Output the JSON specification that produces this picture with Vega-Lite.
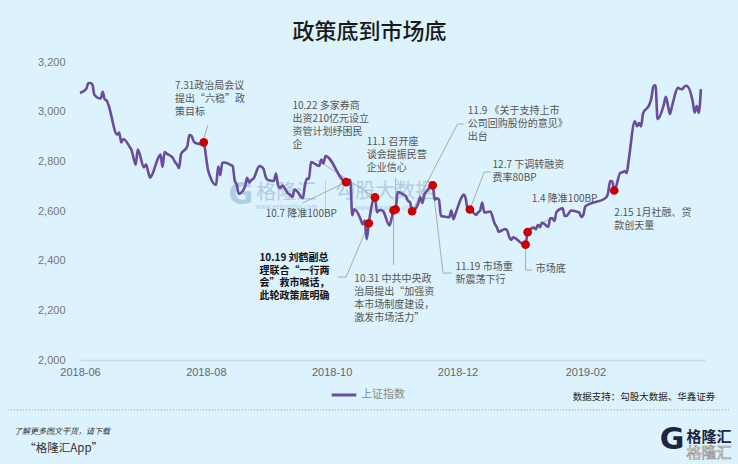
{
  "$schema": "https://vega.github.io/schema/vega-lite/v6.json",
  "width": 625,
  "height": 298,
  "autosize": {"type": "none"},
  "padding": {"left": 80, "top": 62, "right": 33, "bottom": 104},
  "background": "#dcf2fc",
  "config": {"view": {"stroke": null}, "font": "Noto Sans CJK SC"},
  "title": {"text": "政策底到市场底", "anchor": "middle", "frame": "group", "dx": -23, "offset": 12, "fontSize": 22, "fontWeight": 500, "color": "#1a1a1a", "font": "Noto Sans CJK SC"},
  "datasets": {
    "idx": [
      {"date":"2018-06-01","value":3075.14},{"date":"2018-06-04","value":3091.19},{"date":"2018-06-05","value":3114.21},{"date":"2018-06-06","value":3115.18},{"date":"2018-06-07","value":3109.50},{"date":"2018-06-08","value":3067.15},{"date":"2018-06-11","value":3052.78},{"date":"2018-06-12","value":3079.80},{"date":"2018-06-13","value":3049.80},{"date":"2018-06-14","value":3044.16},{"date":"2018-06-15","value":3021.90},{"date":"2018-06-19","value":2907.82},{"date":"2018-06-20","value":2915.73},{"date":"2018-06-21","value":2875.81},{"date":"2018-06-22","value":2889.76},{"date":"2018-06-25","value":2859.34},{"date":"2018-06-26","value":2844.51},{"date":"2018-06-27","value":2813.18},{"date":"2018-06-28","value":2786.90},{"date":"2018-06-29","value":2847.42},
      {"date":"2018-07-02","value":2775.56},{"date":"2018-07-03","value":2786.89},{"date":"2018-07-04","value":2759.13},{"date":"2018-07-05","value":2733.88},{"date":"2018-07-06","value":2747.23},{"date":"2018-07-09","value":2815.11},{"date":"2018-07-10","value":2827.63},{"date":"2018-07-11","value":2777.77},{"date":"2018-07-12","value":2837.66},{"date":"2018-07-13","value":2831.18},{"date":"2018-07-16","value":2814.04},{"date":"2018-07-17","value":2798.13},{"date":"2018-07-18","value":2787.26},{"date":"2018-07-19","value":2772.55},{"date":"2018-07-20","value":2829.27},{"date":"2018-07-23","value":2859.54},{"date":"2018-07-24","value":2905.56},{"date":"2018-07-25","value":2903.65},{"date":"2018-07-26","value":2882.23},{"date":"2018-07-27","value":2873.59},{"date":"2018-07-30","value":2869.05},{"date":"2018-07-31","value":2876.40},
      {"date":"2018-08-01","value":2824.53},{"date":"2018-08-02","value":2768.02},{"date":"2018-08-03","value":2740.44},{"date":"2018-08-06","value":2705.16},{"date":"2018-08-07","value":2779.37},{"date":"2018-08-08","value":2744.07},{"date":"2018-08-09","value":2794.38},{"date":"2018-08-10","value":2795.31},{"date":"2018-08-13","value":2785.87},{"date":"2018-08-14","value":2780.96},{"date":"2018-08-15","value":2723.26},{"date":"2018-08-16","value":2705.19},{"date":"2018-08-17","value":2668.97},{"date":"2018-08-20","value":2698.47},{"date":"2018-08-21","value":2733.44},{"date":"2018-08-22","value":2714.61},{"date":"2018-08-23","value":2724.62},{"date":"2018-08-24","value":2729.43},{"date":"2018-08-27","value":2780.90},{"date":"2018-08-28","value":2777.98},{"date":"2018-08-29","value":2769.30},{"date":"2018-08-30","value":2737.74},{"date":"2018-08-31","value":2725.25},
      {"date":"2018-09-03","value":2720.73},{"date":"2018-09-04","value":2750.58},{"date":"2018-09-05","value":2704.34},{"date":"2018-09-06","value":2691.59},{"date":"2018-09-07","value":2702.30},{"date":"2018-09-10","value":2669.48},{"date":"2018-09-11","value":2664.80},{"date":"2018-09-12","value":2656.11},{"date":"2018-09-13","value":2686.58},{"date":"2018-09-14","value":2681.64},{"date":"2018-09-17","value":2651.79},{"date":"2018-09-18","value":2699.95},{"date":"2018-09-19","value":2730.85},{"date":"2018-09-20","value":2729.24},{"date":"2018-09-21","value":2797.49},{"date":"2018-09-25","value":2781.14},{"date":"2018-09-26","value":2806.81},{"date":"2018-09-27","value":2791.77},{"date":"2018-09-28","value":2821.35},
      {"date":"2018-10-08","value":2716.51},{"date":"2018-10-09","value":2721.01},{"date":"2018-10-10","value":2725.84},{"date":"2018-10-11","value":2583.46},{"date":"2018-10-12","value":2606.91},{"date":"2018-10-15","value":2568.10},{"date":"2018-10-16","value":2546.33},{"date":"2018-10-17","value":2561.61},{"date":"2018-10-18","value":2486.42},{"date":"2018-10-19","value":2550.47},{"date":"2018-10-22","value":2654.88},{"date":"2018-10-23","value":2594.83},{"date":"2018-10-24","value":2603.30},{"date":"2018-10-25","value":2603.80},{"date":"2018-10-26","value":2598.85},{"date":"2018-10-29","value":2542.10},{"date":"2018-10-30","value":2568.05},{"date":"2018-10-31","value":2602.78},
      {"date":"2018-11-01","value":2606.24},{"date":"2018-11-02","value":2676.48},{"date":"2018-11-05","value":2665.43},{"date":"2018-11-06","value":2659.36},{"date":"2018-11-07","value":2641.34},{"date":"2018-11-08","value":2635.63},{"date":"2018-11-09","value":2598.87},{"date":"2018-11-12","value":2630.52},{"date":"2018-11-13","value":2654.88},{"date":"2018-11-14","value":2632.24},{"date":"2018-11-15","value":2668.17},{"date":"2018-11-16","value":2679.11},{"date":"2018-11-19","value":2703.51},{"date":"2018-11-20","value":2645.43},{"date":"2018-11-21","value":2651.51},{"date":"2018-11-22","value":2645.85},{"date":"2018-11-23","value":2579.48},{"date":"2018-11-26","value":2575.81},{"date":"2018-11-27","value":2574.68},{"date":"2018-11-28","value":2601.74},{"date":"2018-11-29","value":2567.44},{"date":"2018-11-30","value":2588.19},
      {"date":"2018-12-03","value":2654.80},{"date":"2018-12-04","value":2665.96},{"date":"2018-12-05","value":2649.81},{"date":"2018-12-06","value":2605.18},{"date":"2018-12-07","value":2605.89},{"date":"2018-12-10","value":2584.58},{"date":"2018-12-11","value":2594.09},{"date":"2018-12-12","value":2602.15},{"date":"2018-12-13","value":2634.05},{"date":"2018-12-14","value":2593.74},{"date":"2018-12-17","value":2597.97},{"date":"2018-12-18","value":2576.65},{"date":"2018-12-19","value":2549.56},{"date":"2018-12-20","value":2536.27},{"date":"2018-12-21","value":2516.25},{"date":"2018-12-24","value":2527.01},{"date":"2018-12-25","value":2522.77},{"date":"2018-12-26","value":2498.29},{"date":"2018-12-27","value":2483.09},{"date":"2018-12-28","value":2493.90},
      {"date":"2019-01-02","value":2465.29},{"date":"2019-01-03","value":2464.36},{"date":"2019-01-04","value":2514.87},{"date":"2019-01-07","value":2533.09},{"date":"2019-01-08","value":2526.46},{"date":"2019-01-09","value":2544.34},{"date":"2019-01-10","value":2535.10},{"date":"2019-01-11","value":2553.83},{"date":"2019-01-14","value":2535.77},{"date":"2019-01-15","value":2570.42},{"date":"2019-01-16","value":2570.34},{"date":"2019-01-17","value":2559.64},{"date":"2019-01-18","value":2596.01},{"date":"2019-01-21","value":2610.51},{"date":"2019-01-22","value":2579.70},{"date":"2019-01-23","value":2581.00},{"date":"2019-01-24","value":2591.69},{"date":"2019-01-25","value":2601.72},{"date":"2019-01-28","value":2596.98},{"date":"2019-01-29","value":2594.25},{"date":"2019-01-30","value":2575.58},{"date":"2019-01-31","value":2584.57},
      {"date":"2019-02-01","value":2618.23},{"date":"2019-02-11","value":2653.90},{"date":"2019-02-12","value":2671.89},{"date":"2019-02-13","value":2721.07},{"date":"2019-02-14","value":2719.70},{"date":"2019-02-15","value":2682.39},{"date":"2019-02-18","value":2754.36},{"date":"2019-02-19","value":2755.65},{"date":"2019-02-20","value":2761.22},{"date":"2019-02-21","value":2751.80},{"date":"2019-02-22","value":2804.23},{"date":"2019-02-25","value":2961.28},{"date":"2019-02-26","value":2941.52},{"date":"2019-02-27","value":2953.82},{"date":"2019-02-28","value":2940.95},
      {"date":"2019-03-01","value":2994.01},{"date":"2019-03-04","value":3027.58},{"date":"2019-03-05","value":3054.25},{"date":"2019-03-06","value":3102.10},{"date":"2019-03-07","value":3106.42},{"date":"2019-03-08","value":2969.86},{"date":"2019-03-11","value":3026.99},{"date":"2019-03-12","value":3060.31},{"date":"2019-03-13","value":3026.95},{"date":"2019-03-14","value":2990.69},{"date":"2019-03-15","value":3021.75},{"date":"2019-03-18","value":3096.42},{"date":"2019-03-19","value":3090.98},{"date":"2019-03-20","value":3090.64},{"date":"2019-03-21","value":3101.46},{"date":"2019-03-22","value":3104.15},{"date":"2019-03-25","value":3043.03},{"date":"2019-03-26","value":2997.10},{"date":"2019-03-27","value":3022.72},{"date":"2019-03-28","value":2994.94},{"date":"2019-03-29","value":3090.76}
    ],
    "dots": [
      {"date":"2018-07-31","value":2876.40},{"date":"2018-10-08","value":2716.51},{"date":"2018-10-19","value":2550.47},{"date":"2018-10-22","value":2654.88},{"date":"2018-10-31","value":2602.78},{"date":"2018-11-01","value":2606.24},{"date":"2018-11-09","value":2598.87},{"date":"2018-11-19","value":2703.51},{"date":"2018-12-07","value":2605.89},{"date":"2019-01-03","value":2464.36},{"date":"2019-01-04","value":2514.87},{"date":"2019-02-15","value":2682.39}
    ],
    "segs": [
      {"date":"2018-07-31","value":2890,"date2":"2018-08-02","value2":2946},
      {"date":"2018-09-24","value":2805,"date2":"2018-10-22","value2":2654.88},
      {"date":"2018-09-17","value":2632,"date2":"2018-10-08","value2":2716.51},
      {"date":"2018-10-19","value":2550.47,"date2":"2018-10-08","value2":2334},
      {"date":"2018-10-08","value":2334,"date2":"2018-10-04","value2":2334},
      {"date":"2018-10-31","value":2602.78,"date2":"2018-10-31","value2":2382},
      {"date":"2018-11-01","value":2733,"date2":"2018-11-01","value2":2606.24},
      {"date":"2018-12-04","value":2950,"date2":"2018-12-01","value2":2950},
      {"date":"2018-12-01","value":2950,"date2":"2018-11-09","value2":2598.87},
      {"date":"2018-11-19","value":2703.51,"date2":"2018-11-24","value2":2350},
      {"date":"2018-11-24","value":2350,"date2":"2018-11-28","value2":2350},
      {"date":"2018-12-17","value":2757,"date2":"2018-12-14","value2":2757},
      {"date":"2018-12-14","value":2757,"date2":"2018-12-07","value2":2605.89},
      {"date":"2019-01-04","value":2514.87,"date2":"2019-01-16","value2":2576},
      {"date":"2019-01-03","value":2464.36,"date2":"2019-01-03","value2":2362},
      {"date":"2019-01-03","value":2362,"date2":"2019-01-06","value2":2362}
    ],
    "notes": [
      {"date":"2018-07-17","value":3123,"label":"7.31政治局会议\n提出“六稳”政\n策目标"},
      {"date":"2018-09-12","value":3043,"label":"10.22 多家券商\n出资210亿元设立\n资管计划纾困民\n企"},
      {"date":"2018-08-30","value":2608,"label":"10.7 降准100BP"},
      {"date":"2018-10-12","value":2346,"label":"10.31 中共中央政\n治局提出“加强资\n本市场制度建设，\n激发市场活力”"},
      {"date":"2018-10-18","value":2898,"label":"11.1 召开座\n谈会提振民营\n企业信心"},
      {"date":"2018-12-06","value":3023,"label":"11.9 《关于支持上市\n公司回购股份的意见》\n出台"},
      {"date":"2018-11-30","value":2395,"label":"11.19 市场重\n新震荡下行"},
      {"date":"2018-12-18","value":2805,"label":"12.7 下调转融资\n费率80BP"},
      {"date":"2019-01-06","value":2668,"label":"1.4 降准100BP"},
      {"date":"2019-01-08","value":2387,"label":"市场底"},
      {"date":"2019-02-15","value":2612,"label":"2.15 1月社融、贷\n款创天量"}
    ],
    "boldnote": [
      {"date":"2018-08-27","value":2431,"label":"10.19 刘鹤副总\n理联合“一行两\n会”救市喊话，\n此轮政策底明确"}
    ]
  },
  "layer": [
    {
      "data": {"values": [{"date":"2018-09-09","value":2672,"label":"格隆汇"},{"date":"2018-10-27","value":2676,"label":"勾股大数据"}]},
      "mark": {"type": "text", "align": "center", "baseline": "middle", "fontSize": 20, "color": "#a9c8df", "opacity": 0.85},
      "encoding": {
        "x": {"field": "date", "type": "temporal", "scale": {"type": "utc", "domain": [{"year":2018,"month":"jun","date":1,"utc":true},{"year":2019,"month":"mar","date":31,"utc":true}]},
          "axis": {"values": [{"year":2018,"month":"jun","date":1,"utc":true},{"year":2018,"month":"aug","date":1,"utc":true},{"year":2018,"month":"oct","date":1,"utc":true},{"year":2018,"month":"dec","date":1,"utc":true},{"year":2019,"month":"feb","date":1,"utc":true}],
            "format": "%Y-%m", "title": null, "ticks": false, "grid": false, "labelFlush": false, "domainColor": "#c3d9e5", "domainWidth": 1.5, "labelColor": "#666666", "labelFont": "Liberation Sans", "labelFontSize": 11, "labelPadding": 6}},
        "y": {"field": "value", "type": "quantitative", "scale": {"domain": [2000, 3200], "nice": false, "zero": false},
          "axis": {"values": [2000, 2200, 2400, 2600, 2800, 3000, 3200], "format": ",.0f", "title": null, "ticks": false, "grid": false, "domain": false, "labelColor": "#777777", "labelFont": "Liberation Sans", "labelFontSize": 11, "labelPadding": 15}},
        "text": {"field": "label"}
      }
    },
    {
      "data": {"values": [{"date":"2018-09-09","value":2616,"label":"www.gelonghui.com"},{"date":"2018-10-27","value":2612,"label":"www.gogudata.com"}]},
      "mark": {"type": "text", "align": "center", "baseline": "middle", "fontSize": 6.5, "color": "#a9c8df", "opacity": 0.85},
      "encoding": {
        "x": {"field": "date", "type": "temporal"},
        "y": {"field": "value", "type": "quantitative"},
        "text": {"field": "label"}
      }
    },
    {
      "data": {"values": [{"date":"2018-08-18","value":2664,"label":"G"}]},
      "mark": {"type": "text", "align": "center", "baseline": "middle", "fontSize": 30, "fontWeight": "bold", "font": "DejaVu Sans", "color": "#a9c8df", "opacity": 0.85},
      "encoding": {
        "x": {"field": "date", "type": "temporal"},
        "y": {"field": "value", "type": "quantitative"},
        "text": {"field": "label"}
      }
    },
    {
      "data": {"values": [{"date":"2018-09-28","value":2725,"date2":"2018-09-28","value2":2604}]},
      "mark": {"type": "rule", "color": "#b5d1e6", "strokeWidth": 1},
      "encoding": {
        "x": {"field": "date", "type": "temporal"},
        "y": {"field": "value", "type": "quantitative"},
        "x2": {"field": "date2"},
        "y2": {"field": "value2"}
      }
    },
    {
      "data": {"name": "segs"},
      "mark": {"type": "rule", "color": "#9a9a9a", "strokeWidth": 0.8},
      "encoding": {
        "x": {"field": "date", "type": "temporal"},
        "y": {"field": "value", "type": "quantitative"},
        "x2": {"field": "date2"},
        "y2": {"field": "value2"}
      }
    },
    {
      "data": {"name": "idx"},
      "mark": {"type": "line", "strokeWidth": 2.6, "interpolate": "monotone"},
      "encoding": {
        "x": {"field": "date", "type": "temporal"},
        "y": {"field": "value", "type": "quantitative"},
        "color": {"datum": "上证指数", "type": "nominal", "scale": {"range": ["#6a4c9c"]},
          "legend": {"title": null, "orient": "none", "legendX": 250, "legendY": 319, "symbolType": "stroke", "symbolStrokeWidth": 3, "symbolSize": 600, "labelFont": "Noto Sans CJK SC", "labelFontSize": 11, "labelColor": "#8a8a8a", "labelOffset": 3}}
      }
    },
    {
      "data": {"name": "dots"},
      "mark": {"type": "point", "filled": true, "color": "#cc0000", "opacity": 1, "size": 75},
      "encoding": {
        "x": {"field": "date", "type": "temporal"},
        "y": {"field": "value", "type": "quantitative"}
      }
    },
    {
      "data": {"name": "notes"},
      "mark": {"type": "text", "align": "left", "baseline": "top", "lineBreak": "\n", "lineHeight": 13, "fontSize": 10, "color": "#555555", "font": "Noto Sans CJK SC"},
      "encoding": {
        "x": {"field": "date", "type": "temporal"},
        "y": {"field": "value", "type": "quantitative"},
        "text": {"field": "label"}
      }
    },
    {
      "data": {"name": "boldnote"},
      "mark": {"type": "text", "align": "left", "baseline": "top", "lineBreak": "\n", "lineHeight": 12.7, "fontSize": 10, "fontWeight": "bold", "color": "#111111", "font": "Noto Sans CJK SC"},
      "encoding": {
        "x": {"field": "date", "type": "temporal"},
        "y": {"field": "value", "type": "quantitative"},
        "text": {"field": "label"}
      }
    },
    {
      "data": {"values": [{"date":"2019-04-05","value":1851,"label":"数据支持：勾股大数据、华鑫证券"}]},
      "mark": {"type": "text", "align": "right", "baseline": "middle", "fontSize": 9.5, "color": "#222222", "font": "Noto Sans CJK SC"},
      "encoding": {
        "x": {"field": "date", "type": "temporal"},
        "y": {"field": "value", "type": "quantitative"},
        "text": {"field": "label"}
      }
    },
    {
      "data": {"values": [{"date":"2018-04-27","value":1799,"date2":"2019-04-12","value2":1799}]},
      "mark": {"type": "rule", "color": "#9a9a9a", "strokeWidth": 1, "strokeDash": [1, 2]},
      "encoding": {
        "x": {"field": "date", "type": "temporal"},
        "y": {"field": "value", "type": "quantitative"},
        "x2": {"field": "date2"},
        "y2": {"field": "value2"}
      }
    },
    {
      "data": {"values": [{"date":"2018-04-30","value":1710,"label":"了解更多图文干货，请下载"}]},
      "mark": {"type": "text", "align": "left", "baseline": "middle", "fontSize": 8, "fontStyle": "italic", "color": "#333333", "font": "Noto Sans CJK SC"},
      "encoding": {
        "x": {"field": "date", "type": "temporal"},
        "y": {"field": "value", "type": "quantitative"},
        "text": {"field": "label"}
      }
    },
    {
      "data": {"values": [{"date":"2018-05-05","value":1642,"label":"“格隆汇App”"}]},
      "mark": {"type": "text", "align": "left", "baseline": "middle", "fontSize": 11.5, "color": "#333333", "font": "Noto Sans CJK SC"},
      "encoding": {
        "x": {"field": "date", "type": "temporal"},
        "y": {"field": "value", "type": "quantitative"},
        "text": {"field": "label"}
      }
    },
    {
      "data": {"values": [{"date":"2019-03-22","value":1690,"label":"格隆汇"}]},
      "mark": {"type": "text", "align": "left", "baseline": "middle", "fontSize": 15, "fontWeight": "bold", "color": "#1c2540", "font": "Noto Sans CJK SC"},
      "encoding": {
        "x": {"field": "date", "type": "temporal"},
        "y": {"field": "value", "type": "quantitative"},
        "text": {"field": "label"}
      }
    },
    {
      "data": {"values": [{"date":"2019-03-22","value":1625,"label":"格隆汇"}]},
      "mark": {"type": "text", "align": "left", "baseline": "middle", "fontSize": 15, "color": "#ffffff", "stroke": "#8a8a8a", "strokeWidth": 0.6, "font": "Noto Sans CJK SC"},
      "encoding": {
        "x": {"field": "date", "type": "temporal"},
        "y": {"field": "value", "type": "quantitative"},
        "text": {"field": "label"}
      }
    },
    {
      "data": {"values": [{"date":"2019-03-15","value":1678,"label":"G"}]},
      "mark": {"type": "text", "align": "center", "baseline": "middle", "fontSize": 30, "fontWeight": "bold", "font": "DejaVu Sans", "color": "#1c2540"},
      "encoding": {
        "x": {"field": "date", "type": "temporal"},
        "y": {"field": "value", "type": "quantitative"},
        "text": {"field": "label"}
      }
    }
  ]
}
